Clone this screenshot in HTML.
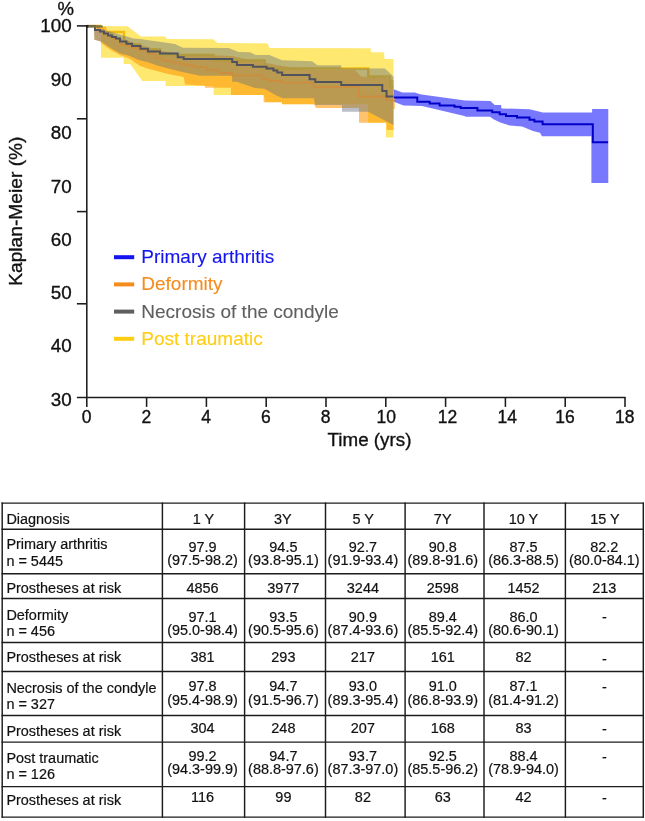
<!DOCTYPE html>
<html><head><meta charset="utf-8"><style>
html,body{margin:0;padding:0;background:#fff;}
body{width:645px;height:821px;position:relative;overflow:hidden;font-family:"Liberation Sans",sans-serif;}
svg{position:absolute;left:0;top:0;will-change:transform;}
text{font-family:"Liberation Sans",sans-serif;stroke-width:0.35px;}
text.k{stroke:#111;}
</style></head><body>
<svg width="645" height="821" viewBox="0 0 645 821">
<polygon points="393.7,89.3 402.4,92.4 414.8,92.4 420.0,94.3 459.5,99.8 465.0,100.5 490.4,100.9 494.7,104.9 501.0,104.9 501.5,108.4 529.5,109.2 540.0,111.7 542.6,112.4 592.1,112.4 592.1,109.0 608.3,109.0 608.3,182.9 591.4,182.9 591.4,136.2 542.0,136.2 540.0,132.8 533.0,131.0 522.0,126.6 509.6,125.4 499.7,122.3 493.5,119.2 490.0,116.7 466.0,116.7 464.4,116.0 422.0,106.0 403.6,105.4 393.7,101.7" fill="#0000ff" fill-opacity="0.53"/>
<polyline points="393.7,97.4 417.3,97.4 417.3,101.7 429.7,101.7 429.7,103.6 439.6,103.6 439.6,105.4 454.5,105.4 454.5,106.7 460.7,106.7 460.7,108.0 477.4,108.0 477.4,110.5 492.2,110.5 492.2,112.3 499.7,112.3 499.7,114.2 506.0,114.2 506.0,116.0 517.0,116.0 517.0,117.5 529.5,117.5 529.5,119.8 534.4,119.8 534.4,121.5 542.6,121.5 542.6,124.3 592.8,124.3 592.8,142.2 608.1,142.2" fill="none" stroke="#0000c8" stroke-width="2"/>
<polygon points="87.0,26.0 127.5,26.3 141.0,36.5 165.0,36.5 167.0,39.0 213.6,39.3 217.3,43.0 267.5,43.3 269.5,48.1 370.7,48.3 371.0,52.2 384.0,52.2 384.5,58.9 393.5,58.9 393.5,137.4 386.0,137.4 386.0,122.8 368.0,122.8 368.0,104.2 282.0,104.2 282.0,102.2 265.6,102.2 263.6,95.0 213.6,95.0 213.6,86.0 165.6,86.0 165.6,81.0 142.3,81.0 130.2,64.0 123.6,64.0 123.6,57.7 101.0,57.7 101.0,27.0 87.0,27.0" fill="#ffd600" fill-opacity="0.56"/>
<polygon points="94.0,26.5 106.0,26.5 107.0,31.0 120.0,38.0 140.0,45.0 160.0,50.5 180.0,54.0 232.0,56.0 250.0,60.0 282.0,66.0 310.0,70.0 355.0,70.0 361.0,76.5 385.0,77.5 393.5,80.0 393.5,130.0 386.5,130.0 386.5,122.8 359.0,122.8 359.0,108.0 316.0,108.0 314.0,104.2 282.0,104.2 282.0,102.2 263.6,102.2 263.6,95.0 231.0,95.0 231.0,87.7 205.0,87.7 205.0,85.8 185.0,84.5 183.7,77.0 168.0,74.0 149.0,69.0 140.0,66.0 129.3,58.6 120.0,55.3 110.0,49.5 101.0,43.0 101.0,41.5 94.4,39.7 94.0,27.5" fill="#ff9600" fill-opacity="0.57"/>
<rect x="393.5" y="98" width="1.3" height="11" fill="#ff9600" fill-opacity="0.57"/>
<polyline points="87.0,26.0 100.0,26.0 100.0,30.0 103.0,30.0 103.0,32.0 124.0,32.0 124.0,44.5 140.0,44.5 140.0,49.5 160.0,49.5 160.0,55.0 213.6,55.0 213.6,60.5 264.6,60.5 264.6,68.5 368.3,68.5 368.3,76.5 390.0,76.5 390.0,87.4 393.5,87.4" fill="none" stroke="#f0bc10" stroke-width="2.4"/>
<polygon points="94.0,28.5 104.6,30.0 133.6,38.6 140.0,39.0 175.0,44.0 182.8,47.8 228.5,48.1 238.7,51.9 250.0,52.3 255.8,55.0 269.5,55.0 282.0,60.3 312.0,61.2 317.4,65.3 341.2,65.3 341.2,68.3 385.0,68.6 393.5,76.5 393.5,125.0 368.0,111.8 342.0,111.8 342.0,105.0 315.0,105.0 314.0,98.3 283.0,98.3 276.8,95.7 264.4,88.7 255.0,87.9 236.5,81.7 232.2,81.7 232.2,75.7 200.0,75.7 180.0,71.6 166.5,67.9 157.2,65.6 147.9,62.3 138.6,60.0 129.3,55.8 120.0,53.5 110.0,47.5 101.0,41.5 94.4,39.7 94.0,28.5" fill="rgb(98,112,122)" fill-opacity="0.44"/>
<polyline points="87.0,26.0 98.0,26.0 98.0,29.0 98.0,29.5 103.0,29.5 103.0,32.5 108.0,32.5 108.0,35.5 113.0,35.5 113.0,38.5 120.0,38.5 120.0,44.5 126.0,44.5 126.0,46.0 132.0,46.0 132.0,48.0 138.6,48.0 138.6,50.2 147.9,50.2 147.9,54.0 155.3,54.0 155.3,57.7 161.9,57.7 161.9,60.5 171.2,60.5 171.2,62.3 180.0,62.3 180.0,64.2 188.0,64.2 188.0,65.5 195.0,65.5 195.0,67.2 207.0,67.2 207.0,70.0 219.0,70.0 219.0,72.8 232.2,72.8 232.2,75.6 261.7,75.6 261.7,78.8 268.5,78.8 268.5,80.8 282.0,80.8 282.0,82.7 313.8,82.7 313.8,87.0 358.5,87.0 358.5,96.6 386.5,96.6 386.5,100.2 393.5,100.2" fill="none" stroke="#d08c3a" stroke-width="1.5"/>
<polyline points="87.0,26.0 95.0,26.0 95.0,30.0 100.0,30.0 100.0,31.6 104.0,31.6 104.0,33.5 108.0,33.5 108.0,35.5 112.0,35.5 112.0,37.0 116.0,37.0 116.0,38.5 120.0,38.5 120.0,41.4 126.5,41.4 126.5,43.7 132.1,43.7 132.1,46.0 140.5,46.0 140.5,48.8 147.9,48.8 147.9,51.6 160.0,51.6 160.0,53.5 177.7,53.5 177.7,57.2 183.7,57.2 183.7,59.0 232.2,59.0 232.2,62.1 236.9,62.1 236.9,64.9 252.9,64.9 252.9,66.7 266.6,66.7 266.6,68.6 273.4,68.6 273.4,70.5 277.3,70.5 277.3,72.5 282.1,72.5 282.1,75.0 309.6,75.0 309.6,79.3 315.3,79.3 315.3,81.9 341.2,81.9 341.2,85.0 382.3,85.0 382.3,91.1 386.5,91.1 386.5,96.6 393.5,96.6" fill="none" stroke="#50535e" stroke-width="2"/>
<line x1="87" y1="26.5" x2="102.7" y2="26.5" stroke="#7a7040" stroke-width="2.2"/>
<rect x="86" y="25" width="2.4" height="2.4" fill="#101060"/>
<line x1="86.8" y1="25" x2="86.8" y2="406.9" stroke="#1c1c1c" stroke-width="1.55"/>
<line x1="76.9" y1="397.4" x2="625.5" y2="397.4" stroke="#1c1c1c" stroke-width="1.55"/>
<line x1="76.9" y1="25.9" x2="87" y2="25.9" stroke="#1c1c1c" stroke-width="1.55"/>
<line x1="76.9" y1="118.8" x2="87" y2="118.8" stroke="#1c1c1c" stroke-width="1.55"/>
<line x1="76.9" y1="211.6" x2="87" y2="211.6" stroke="#1c1c1c" stroke-width="1.55"/>
<line x1="76.9" y1="303.8" x2="87" y2="303.8" stroke="#1c1c1c" stroke-width="1.55"/>
<line x1="146.6" y1="397" x2="146.6" y2="406.9" stroke="#1c1c1c" stroke-width="1.55"/>
<line x1="206.4" y1="397" x2="206.4" y2="406.9" stroke="#1c1c1c" stroke-width="1.55"/>
<line x1="266.2" y1="397" x2="266.2" y2="406.9" stroke="#1c1c1c" stroke-width="1.55"/>
<line x1="326.0" y1="397" x2="326.0" y2="406.9" stroke="#1c1c1c" stroke-width="1.55"/>
<line x1="385.8" y1="397" x2="385.8" y2="406.9" stroke="#1c1c1c" stroke-width="1.55"/>
<line x1="445.6" y1="397" x2="445.6" y2="406.9" stroke="#1c1c1c" stroke-width="1.55"/>
<line x1="505.4" y1="397" x2="505.4" y2="406.9" stroke="#1c1c1c" stroke-width="1.55"/>
<line x1="565.2" y1="397" x2="565.2" y2="406.9" stroke="#1c1c1c" stroke-width="1.55"/>
<line x1="625.0" y1="397" x2="625.0" y2="406.9" stroke="#1c1c1c" stroke-width="1.55"/>
<text x="71.6" y="31.8" text-anchor="end" font-size="18.8" fill="#111" class="k">100</text>
<text x="71.6" y="85.9" text-anchor="end" font-size="18.8" fill="#111" class="k">90</text>
<text x="71.6" y="139.2" text-anchor="end" font-size="18.8" fill="#111" class="k">80</text>
<text x="71.6" y="192.5" text-anchor="end" font-size="18.8" fill="#111" class="k">70</text>
<text x="71.6" y="245.8" text-anchor="end" font-size="18.8" fill="#111" class="k">60</text>
<text x="71.6" y="299.1" text-anchor="end" font-size="18.8" fill="#111" class="k">50</text>
<text x="71.6" y="352.3" text-anchor="end" font-size="18.8" fill="#111" class="k">40</text>
<text x="71.6" y="405.6" text-anchor="end" font-size="18.8" fill="#111" class="k">30</text>

<text x="86.5" y="422.6" text-anchor="middle" font-size="17.5" fill="#111" class="k">0</text>
<text x="146.3" y="422.6" text-anchor="middle" font-size="17.5" fill="#111" class="k">2</text>
<text x="206.1" y="422.6" text-anchor="middle" font-size="17.5" fill="#111" class="k">4</text>
<text x="265.9" y="422.6" text-anchor="middle" font-size="17.5" fill="#111" class="k">6</text>
<text x="325.7" y="422.6" text-anchor="middle" font-size="17.5" fill="#111" class="k">8</text>
<text x="386.3" y="422.6" text-anchor="middle" font-size="17.5" fill="#111" class="k">10</text>
<text x="447.6" y="422.6" text-anchor="middle" font-size="17.5" fill="#111" class="k">12</text>
<text x="507.3" y="422.6" text-anchor="middle" font-size="17.5" fill="#111" class="k">14</text>
<text x="564.9" y="422.6" text-anchor="middle" font-size="17.5" fill="#111" class="k">16</text>
<text x="624.7" y="422.6" text-anchor="middle" font-size="17.5" fill="#111" class="k">18</text>

<text x="57.6" y="14.6" font-size="18.5" fill="#111" class="k">%</text>
<text x="327.6" y="446.4" font-size="18.8" fill="#111" class="k">Time (yrs)</text>
<text transform="translate(21.6,285.8) rotate(-90)" font-size="19.2" fill="#111" class="k">Kaplan-Meier (%)</text>
<rect x="114" y="255.2" width="20.2" height="4" fill="#1414f0"/>
<text x="141.3" y="263.2" fill="#1414f0" stroke="#1414f0" style="stroke-width:0.12px" font-size="19">Primary arthritis</text>
<rect x="114" y="282.4" width="20.2" height="4" fill="#f58c1e"/>
<text x="141.3" y="290.4" fill="#f58c1e" stroke="#f58c1e" style="stroke-width:0.12px" font-size="19">Deformity</text>
<rect x="114" y="309.6" width="20.2" height="4" fill="#5f5f5f"/>
<text x="141.3" y="317.6" fill="#5f5f5f" stroke="#5f5f5f" style="stroke-width:0.12px" font-size="19">Necrosis of the condyle</text>
<rect x="114" y="336.8" width="20.2" height="4" fill="#ffcd14"/>
<text x="141.3" y="344.8" fill="#ffcd14" stroke="#ffcd14" style="stroke-width:0.12px" font-size="19">Post traumatic</text>

<line x1="1.5000000000000002" y1="503.1" x2="644.0" y2="503.1" stroke="#1c1c1c" stroke-width="1.45"/>
<line x1="1.5000000000000002" y1="529.2" x2="644.0" y2="529.2" stroke="#1c1c1c" stroke-width="1.45"/>
<line x1="1.5000000000000002" y1="573.7" x2="644.0" y2="573.7" stroke="#1c1c1c" stroke-width="1.45"/>
<line x1="1.5000000000000002" y1="598.4" x2="644.0" y2="598.4" stroke="#1c1c1c" stroke-width="1.45"/>
<line x1="1.5000000000000002" y1="642.4" x2="644.0" y2="642.4" stroke="#1c1c1c" stroke-width="1.45"/>
<line x1="1.5000000000000002" y1="671.5" x2="644.0" y2="671.5" stroke="#1c1c1c" stroke-width="1.45"/>
<line x1="1.5000000000000002" y1="715.5" x2="644.0" y2="715.5" stroke="#1c1c1c" stroke-width="1.45"/>
<line x1="1.5000000000000002" y1="742.1" x2="644.0" y2="742.1" stroke="#1c1c1c" stroke-width="1.45"/>
<line x1="1.5000000000000002" y1="786.6" x2="644.0" y2="786.6" stroke="#1c1c1c" stroke-width="1.45"/>
<line x1="1.5000000000000002" y1="817.1" x2="644.0" y2="817.1" stroke="#1c1c1c" stroke-width="1.45"/>
<line x1="2.2" y1="502.40000000000003" x2="2.2" y2="817.8000000000001" stroke="#1c1c1c" stroke-width="1.45"/>
<line x1="162.4" y1="502.40000000000003" x2="162.4" y2="817.8000000000001" stroke="#1c1c1c" stroke-width="1.45"/>
<line x1="244.6" y1="502.40000000000003" x2="244.6" y2="817.8000000000001" stroke="#1c1c1c" stroke-width="1.45"/>
<line x1="325.5" y1="502.40000000000003" x2="325.5" y2="817.8000000000001" stroke="#1c1c1c" stroke-width="1.45"/>
<line x1="405.1" y1="502.40000000000003" x2="405.1" y2="817.8000000000001" stroke="#1c1c1c" stroke-width="1.45"/>
<line x1="484.0" y1="502.40000000000003" x2="484.0" y2="817.8000000000001" stroke="#1c1c1c" stroke-width="1.45"/>
<line x1="565.4" y1="502.40000000000003" x2="565.4" y2="817.8000000000001" stroke="#1c1c1c" stroke-width="1.45"/>
<line x1="643.3" y1="502.40000000000003" x2="643.3" y2="817.8000000000001" stroke="#1c1c1c" stroke-width="1.45"/>
<text x="6.4" y="523.8" font-size="14.45" style="stroke-width:0.2px" fill="#111" class="k">Diagnosis</text>
<text x="203.5" y="523.7" font-size="14.45" style="stroke-width:0.2px" fill="#111" class="k" text-anchor="middle">1 Y</text>
<text x="282.9" y="523.7" font-size="14.45" style="stroke-width:0.2px" fill="#111" class="k" text-anchor="middle">3Y</text>
<text x="363.2" y="523.7" font-size="14.45" style="stroke-width:0.2px" fill="#111" class="k" text-anchor="middle">5 Y</text>
<text x="442.7" y="523.7" font-size="14.45" style="stroke-width:0.2px" fill="#111" class="k" text-anchor="middle">7Y</text>
<text x="523.5" y="523.7" font-size="14.45" style="stroke-width:0.2px" fill="#111" class="k" text-anchor="middle">10 Y</text>
<text x="604.9" y="523.7" font-size="14.45" style="stroke-width:0.2px" fill="#111" class="k" text-anchor="middle">15 Y</text>
<text x="6.4" y="549.4" font-size="14.45" style="stroke-width:0.2px" fill="#111" class="k">Primary arthritis</text>
<text x="6.4" y="566.0" font-size="14.45" style="stroke-width:0.2px" fill="#111" class="k">n = 5445</text>
<text x="202.5" y="551.6" font-size="14.45" style="stroke-width:0.2px" fill="#111" class="k" text-anchor="middle">97.9</text>
<text x="202.5" y="564.9" font-size="14.45" style="stroke-width:0.2px" fill="#111" class="k" text-anchor="middle">(97.5-98.2)</text>
<text x="283.4" y="551.6" font-size="14.45" style="stroke-width:0.2px" fill="#111" class="k" text-anchor="middle">94.5</text>
<text x="283.4" y="564.9" font-size="14.45" style="stroke-width:0.2px" fill="#111" class="k" text-anchor="middle">(93.8-95.1)</text>
<text x="362.9" y="551.6" font-size="14.45" style="stroke-width:0.2px" fill="#111" class="k" text-anchor="middle">92.7</text>
<text x="362.9" y="564.9" font-size="14.45" style="stroke-width:0.2px" fill="#111" class="k" text-anchor="middle">(91.9-93.4)</text>
<text x="442.8" y="551.6" font-size="14.45" style="stroke-width:0.2px" fill="#111" class="k" text-anchor="middle">90.8</text>
<text x="442.8" y="564.9" font-size="14.45" style="stroke-width:0.2px" fill="#111" class="k" text-anchor="middle">(89.8-91.6)</text>
<text x="523.5" y="551.6" font-size="14.45" style="stroke-width:0.2px" fill="#111" class="k" text-anchor="middle">87.5</text>
<text x="523.5" y="564.9" font-size="14.45" style="stroke-width:0.2px" fill="#111" class="k" text-anchor="middle">(86.3-88.5)</text>
<text x="604.3" y="551.6" font-size="14.45" style="stroke-width:0.2px" fill="#111" class="k" text-anchor="middle">82.2</text>
<text x="604.3" y="564.9" font-size="14.45" style="stroke-width:0.2px" fill="#111" class="k" text-anchor="middle">(80.0-84.1)</text>
<text x="6.4" y="592.9" font-size="14.45" style="stroke-width:0.2px" fill="#111" class="k">Prostheses at risk</text>
<text x="202.5" y="593.2" font-size="14.45" style="stroke-width:0.2px" fill="#111" class="k" text-anchor="middle">4856</text>
<text x="283.4" y="593.2" font-size="14.45" style="stroke-width:0.2px" fill="#111" class="k" text-anchor="middle">3977</text>
<text x="362.9" y="593.2" font-size="14.45" style="stroke-width:0.2px" fill="#111" class="k" text-anchor="middle">3244</text>
<text x="442.8" y="593.2" font-size="14.45" style="stroke-width:0.2px" fill="#111" class="k" text-anchor="middle">2598</text>
<text x="523.5" y="593.2" font-size="14.45" style="stroke-width:0.2px" fill="#111" class="k" text-anchor="middle">1452</text>
<text x="604.3" y="593.2" font-size="14.45" style="stroke-width:0.2px" fill="#111" class="k" text-anchor="middle">213</text>
<text x="6.4" y="619.6" font-size="14.45" style="stroke-width:0.2px" fill="#111" class="k">Deformity</text>
<text x="6.4" y="635.5" font-size="14.45" style="stroke-width:0.2px" fill="#111" class="k">n = 456</text>
<text x="202.5" y="621.6" font-size="14.45" style="stroke-width:0.2px" fill="#111" class="k" text-anchor="middle">97.1</text>
<text x="202.5" y="634.8" font-size="14.45" style="stroke-width:0.2px" fill="#111" class="k" text-anchor="middle">(95.0-98.4)</text>
<text x="283.4" y="621.6" font-size="14.45" style="stroke-width:0.2px" fill="#111" class="k" text-anchor="middle">93.5</text>
<text x="283.4" y="634.8" font-size="14.45" style="stroke-width:0.2px" fill="#111" class="k" text-anchor="middle">(90.5-95.6)</text>
<text x="362.9" y="621.6" font-size="14.45" style="stroke-width:0.2px" fill="#111" class="k" text-anchor="middle">90.9</text>
<text x="362.9" y="634.8" font-size="14.45" style="stroke-width:0.2px" fill="#111" class="k" text-anchor="middle">(87.4-93.6)</text>
<text x="442.8" y="621.6" font-size="14.45" style="stroke-width:0.2px" fill="#111" class="k" text-anchor="middle">89.4</text>
<text x="442.8" y="634.8" font-size="14.45" style="stroke-width:0.2px" fill="#111" class="k" text-anchor="middle">(85.5-92.4)</text>
<text x="523.5" y="621.6" font-size="14.45" style="stroke-width:0.2px" fill="#111" class="k" text-anchor="middle">86.0</text>
<text x="523.5" y="634.8" font-size="14.45" style="stroke-width:0.2px" fill="#111" class="k" text-anchor="middle">(80.6-90.1)</text>
<text x="604.3" y="622.0" font-size="14.45" style="stroke-width:0.2px" fill="#111" class="k" text-anchor="middle">-</text>
<text x="6.4" y="662.0" font-size="14.45" style="stroke-width:0.2px" fill="#111" class="k">Prostheses at risk</text>
<text x="202.5" y="662.0" font-size="14.45" style="stroke-width:0.2px" fill="#111" class="k" text-anchor="middle">381</text>
<text x="283.4" y="662.0" font-size="14.45" style="stroke-width:0.2px" fill="#111" class="k" text-anchor="middle">293</text>
<text x="362.9" y="662.0" font-size="14.45" style="stroke-width:0.2px" fill="#111" class="k" text-anchor="middle">217</text>
<text x="442.8" y="662.0" font-size="14.45" style="stroke-width:0.2px" fill="#111" class="k" text-anchor="middle">161</text>
<text x="523.5" y="662.0" font-size="14.45" style="stroke-width:0.2px" fill="#111" class="k" text-anchor="middle">82</text>
<text x="604.3" y="663.7" font-size="14.45" style="stroke-width:0.2px" fill="#111" class="k" text-anchor="middle">-</text>
<text x="6.4" y="693.0" font-size="14.45" style="stroke-width:0.2px" fill="#111" class="k">Necrosis of the condyle</text>
<text x="6.4" y="709.4" font-size="14.45" style="stroke-width:0.2px" fill="#111" class="k">n = 327</text>
<text x="202.5" y="691.0" font-size="14.45" style="stroke-width:0.2px" fill="#111" class="k" text-anchor="middle">97.8</text>
<text x="202.5" y="705.0" font-size="14.45" style="stroke-width:0.2px" fill="#111" class="k" text-anchor="middle">(95.4-98.9)</text>
<text x="283.4" y="691.0" font-size="14.45" style="stroke-width:0.2px" fill="#111" class="k" text-anchor="middle">94.7</text>
<text x="283.4" y="705.0" font-size="14.45" style="stroke-width:0.2px" fill="#111" class="k" text-anchor="middle">(91.5-96.7)</text>
<text x="362.9" y="691.0" font-size="14.45" style="stroke-width:0.2px" fill="#111" class="k" text-anchor="middle">93.0</text>
<text x="362.9" y="705.0" font-size="14.45" style="stroke-width:0.2px" fill="#111" class="k" text-anchor="middle">(89.3-95.4)</text>
<text x="442.8" y="691.0" font-size="14.45" style="stroke-width:0.2px" fill="#111" class="k" text-anchor="middle">91.0</text>
<text x="442.8" y="705.0" font-size="14.45" style="stroke-width:0.2px" fill="#111" class="k" text-anchor="middle">(86.8-93.9)</text>
<text x="523.5" y="691.0" font-size="14.45" style="stroke-width:0.2px" fill="#111" class="k" text-anchor="middle">87.1</text>
<text x="523.5" y="705.0" font-size="14.45" style="stroke-width:0.2px" fill="#111" class="k" text-anchor="middle">(81.4-91.2)</text>
<text x="604.3" y="691.9000000000001" font-size="14.45" style="stroke-width:0.2px" fill="#111" class="k" text-anchor="middle">-</text>
<text x="6.4" y="736.1" font-size="14.45" style="stroke-width:0.2px" fill="#111" class="k">Prostheses at risk</text>
<text x="202.5" y="732.8" font-size="14.45" style="stroke-width:0.2px" fill="#111" class="k" text-anchor="middle">304</text>
<text x="283.4" y="732.8" font-size="14.45" style="stroke-width:0.2px" fill="#111" class="k" text-anchor="middle">248</text>
<text x="362.9" y="732.8" font-size="14.45" style="stroke-width:0.2px" fill="#111" class="k" text-anchor="middle">207</text>
<text x="442.8" y="732.8" font-size="14.45" style="stroke-width:0.2px" fill="#111" class="k" text-anchor="middle">168</text>
<text x="523.5" y="732.8" font-size="14.45" style="stroke-width:0.2px" fill="#111" class="k" text-anchor="middle">83</text>
<text x="604.3" y="733.5" font-size="14.45" style="stroke-width:0.2px" fill="#111" class="k" text-anchor="middle">-</text>
<text x="6.4" y="762.5" font-size="14.45" style="stroke-width:0.2px" fill="#111" class="k">Post traumatic</text>
<text x="6.4" y="778.8" font-size="14.45" style="stroke-width:0.2px" fill="#111" class="k">n = 126</text>
<text x="202.5" y="760.6" font-size="14.45" style="stroke-width:0.2px" fill="#111" class="k" text-anchor="middle">99.2</text>
<text x="202.5" y="774.1" font-size="14.45" style="stroke-width:0.2px" fill="#111" class="k" text-anchor="middle">(94.3-99.9)</text>
<text x="283.4" y="760.6" font-size="14.45" style="stroke-width:0.2px" fill="#111" class="k" text-anchor="middle">94.7</text>
<text x="283.4" y="774.1" font-size="14.45" style="stroke-width:0.2px" fill="#111" class="k" text-anchor="middle">(88.8-97.6)</text>
<text x="362.9" y="760.6" font-size="14.45" style="stroke-width:0.2px" fill="#111" class="k" text-anchor="middle">93.7</text>
<text x="362.9" y="774.1" font-size="14.45" style="stroke-width:0.2px" fill="#111" class="k" text-anchor="middle">(87.3-97.0)</text>
<text x="442.8" y="760.6" font-size="14.45" style="stroke-width:0.2px" fill="#111" class="k" text-anchor="middle">92.5</text>
<text x="442.8" y="774.1" font-size="14.45" style="stroke-width:0.2px" fill="#111" class="k" text-anchor="middle">(85.5-96.2)</text>
<text x="523.5" y="760.6" font-size="14.45" style="stroke-width:0.2px" fill="#111" class="k" text-anchor="middle">88.4</text>
<text x="523.5" y="774.1" font-size="14.45" style="stroke-width:0.2px" fill="#111" class="k" text-anchor="middle">(78.9-94.0)</text>
<text x="604.3" y="761.5" font-size="14.45" style="stroke-width:0.2px" fill="#111" class="k" text-anchor="middle">-</text>
<text x="6.4" y="805.1" font-size="14.45" style="stroke-width:0.2px" fill="#111" class="k">Prostheses at risk</text>
<text x="202.5" y="802.3" font-size="14.45" style="stroke-width:0.2px" fill="#111" class="k" text-anchor="middle">116</text>
<text x="283.4" y="802.3" font-size="14.45" style="stroke-width:0.2px" fill="#111" class="k" text-anchor="middle">99</text>
<text x="362.9" y="802.3" font-size="14.45" style="stroke-width:0.2px" fill="#111" class="k" text-anchor="middle">82</text>
<text x="442.8" y="802.3" font-size="14.45" style="stroke-width:0.2px" fill="#111" class="k" text-anchor="middle">63</text>
<text x="523.5" y="802.3" font-size="14.45" style="stroke-width:0.2px" fill="#111" class="k" text-anchor="middle">42</text>
<text x="604.3" y="803.4000000000001" font-size="14.45" style="stroke-width:0.2px" fill="#111" class="k" text-anchor="middle">-</text>
</svg>
</body></html>
